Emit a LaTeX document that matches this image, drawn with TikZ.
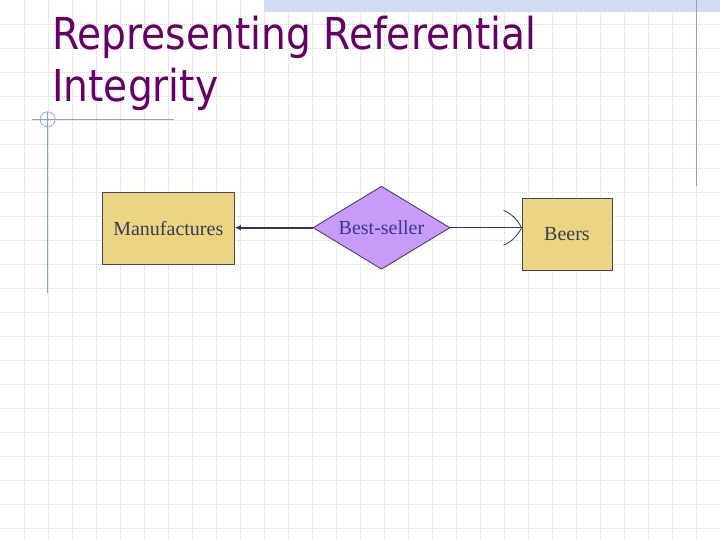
\documentclass[tikz,border=0pt]{standalone}
\usepackage{fontspec}
\setmainfont{Liberation Serif}
\newfontfamily\titlefont[FakeStretch=0.89]{DejaVu Sans}
\usetikzlibrary{shapes.geometric,arrows.meta}
\definecolor{gridc}{RGB}{212,212,212}
\definecolor{bandc}{RGB}{210,220,240}
\definecolor{decoc}{RGB}{140,160,205}
\definecolor{titlec}{RGB}{102,0,102}
\definecolor{entfill}{RGB}{233,213,130}
\definecolor{entdraw}{RGB}{75,70,80}
\definecolor{relfill}{RGB}{198,156,248}
\definecolor{reldraw}{RGB}{80,60,110}
\definecolor{txtc}{RGB}{60,60,82}
\definecolor{reltxt}{RGB}{60,55,140}
\definecolor{linec}{RGB}{51,51,102}
\tikzset{
  titletext/.style={anchor=base west,inner sep=0pt,text=titlec,font=\titlefont\fontsize{44}{48}\selectfont},
  entity/.style={draw=entdraw,fill=entfill,line width=0.9pt,inner sep=0pt,text=txtc,font=\fontsize{20}{22}\selectfont},
  relation/.style={diamond,draw=reldraw,fill=relfill,line width=0.9pt,inner sep=0pt,aspect=1.65,
     minimum width=137pt,minimum height=83pt,text=reltxt,font=\fontsize{20}{22}\selectfont},
  gridline/.style={gridc,line width=0.6pt,dash pattern=on 1pt off 1pt},
  deco/.style={decoc,line width=0.9pt},
  conn/.style={linec,line width=1.8pt},
  thinconn/.style={linec,line width=0.9pt}
}
\begin{document}
\begin{tikzpicture}[x=1pt,y=-1pt]
\useasboundingbox (0,0) rectangle (720,540);
\fill[white] (0,0) rectangle (720,540);
% grid
\foreach \i in {24,48,...,720} {\draw[gridline] (\i,0) -- (\i,540);}
\foreach \j in {24,48,...,528} {\draw[gridline] (0,\j) -- (720,\j);}
% top band
\fill[bandc] (264,0) rectangle (720,12.5);
% decorations
\draw[deco] (696.7,0) -- (696.7,186.5);
\draw[deco] (32,119.3) -- (173.5,119.3);
\draw[deco] (47.7,112) -- (47.7,292.5);
\draw[deco,line width=0.7pt] (47.7,119.3) circle[radius=7.5];
% title
\node[titletext] (t1) at (52,50) {Representing Referential};
\node[titletext] (t2) at (52,102) {Integrity};
% nodes
\node[entity,minimum width=132pt,minimum height=72pt] (manu) at (168.3,228.2) {Manufactures};
\node[relation] (bs) at (381.5,227.7) {Best-seller};
\node[entity,minimum width=90pt,minimum height=72pt] (beers) at (567,234) {Beers};
% connectors
\draw[conn,-{Latex[length=6pt,width=5.5pt]}] (bs.west) -- (manu.east |- bs.west);
\coordinate (tip) at (beers.west |- bs.east);
\draw[thinconn] (bs.east) -- (tip);
\coordinate (ua) at ([shift={(-18,-17.5)}]tip);
\coordinate (la) at ([shift={(-18,17.5)}]tip);
\draw[thinconn,line width=0.8pt] (ua) .. controls ([shift={(-10,-14)}]tip) and ([shift={(-4,-8)}]tip) .. (tip)
  .. controls ([shift={(-4,8)}]tip) and ([shift={(-10,14)}]tip) .. (la);
\end{tikzpicture}
\end{document}
